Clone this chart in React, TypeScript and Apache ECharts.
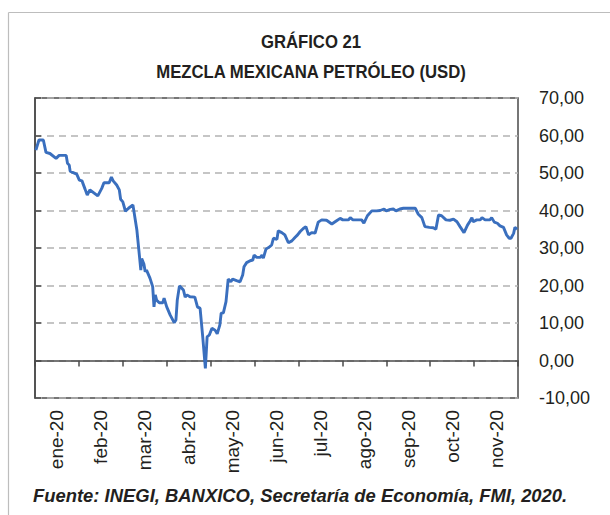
import React, { useEffect, useRef } from "react";
import * as echarts from "echarts";

const months = ["ene-20", "feb-20", "mar-20", "abr-20", "may-20", "jun-20", "jul-20", "ago-20", "sep-20", "oct-20", "nov-20"];

// position in months since 1 Jan 2020 (axis of equal month widths)
const timePos = [
  0.02, 0.09, 0.19, 0.25, 0.34, 0.48, 0.55, 0.71, 0.74, 0.78, 0.8, 0.87, 0.95, 1.01, 1.07, 1.14, 1.19, 1.25,
  1.43, 1.52, 1.57, 1.69, 1.74, 1.78, 1.86, 1.92, 1.95, 2.0, 2.06, 2.13, 2.23, 2.32, 2.38, 2.41, 2.43, 2.48,
  2.51, 2.54, 2.62, 2.68, 2.71, 2.74, 2.77, 2.83, 2.91, 2.94, 3.0, 3.08, 3.17, 3.21, 3.24, 3.29, 3.38, 3.42,
  3.46, 3.53, 3.64, 3.7, 3.76, 3.82, 3.88, 3.92, 3.97, 4.03, 4.1, 4.15, 4.21, 4.24, 4.29, 4.35, 4.4, 4.46,
  4.5, 4.59, 4.67, 4.73, 4.76, 4.82, 4.9, 4.96, 4.99, 5.05, 5.13, 5.17, 5.2, 5.26, 5.34, 5.39, 5.43, 5.51,
  5.54, 5.62, 5.69, 5.77, 5.85, 5.92, 5.98, 6.04, 6.11, 6.17, 6.23, 6.3, 6.38, 6.45, 6.53, 6.64, 6.76, 6.86,
  6.95, 7.01, 7.14, 7.18, 7.24, 7.44, 7.49, 7.57, 7.67, 7.78, 7.86, 7.95, 8.0, 8.09, 8.16, 8.22, 8.31, 8.39,
  8.54, 8.66, 8.73, 8.81, 8.88, 8.98, 9.07, 9.13, 9.19, 9.26, 9.36, 9.45, 9.53, 9.61, 9.68, 9.77, 9.85, 9.91,
  9.95, 9.98, 10.06, 10.14, 10.18, 10.25, 10.36, 10.4, 10.46, 10.53, 10.59, 10.67, 10.74, 10.8, 10.84, 10.9,
  10.93, 10.98,
];

const prices = [
  56.1, 58.8, 58.8, 55.5, 55.2, 53.9, 54.7, 54.7, 52.6, 52.1, 50.5, 50.1, 49.7, 48.1, 47.9, 45.7, 44.1, 45.5,
  43.9, 45.9, 47.4, 47.4, 48.9, 47.9, 46.8, 45.5, 43.0, 42.3, 39.8, 40.6, 41.5, 34.8, 27.7, 24.1, 27.2, 25.7,
  23.7, 24.1, 21.9, 19.7, 14.3, 17.5, 16.1, 15.4, 15.4, 16.6, 14.3, 12.1, 10.1, 10.8, 16.1, 19.9, 18.8, 16.9,
  17.5, 17.0, 16.9, 14.3, 13.9, 6.3, -2.1, 6.3, 6.8, 8.6, 8.1, 7.1, 9.5, 12.6, 12.7, 15.7, 21.7, 21.0,
  21.7, 21.3, 21.0, 22.8, 25.0, 26.1, 26.6, 26.8, 28.1, 27.5, 27.5, 28.1, 27.3, 29.7, 30.3, 30.8, 32.6, 32.3,
  34.6, 34.1, 33.5, 31.4, 31.9, 32.8, 33.5, 34.4, 35.2, 35.7, 33.5, 34.1, 34.0, 36.9, 37.5, 37.4, 36.4, 37.2,
  37.9, 37.5, 37.5, 38.1, 37.5, 37.5, 36.6, 38.6, 39.9, 39.9, 40.0, 40.4, 39.9, 40.3, 40.4, 39.9, 40.4, 40.6,
  40.6, 40.6, 39.0, 38.1, 35.7, 35.5, 35.4, 35.0, 38.8, 38.6, 37.5, 37.4, 37.7, 37.0, 35.7, 34.1, 36.1, 37.2,
  38.1, 37.0, 37.5, 37.5, 38.1, 37.5, 37.5, 38.1, 36.9, 36.6, 35.9, 35.5, 33.5, 32.6, 32.6, 33.9,
  35.5, 35.0,
];

const titleLine1 = "GRÁFICO 21";
const titleLine2 = "MEZCLA MEXICANA PETRÓLEO (USD)";
const sourceNote = "Fuente: INEGI, BANXICO, Secretaría de Economía, FMI, 2020.";

const FONT = "'Liberation Sans', Arial, Helvetica, sans-serif";
const TEXT = "#231f20";

export default function App() {
  const ref = useRef<HTMLDivElement>(null);

  useEffect(() => {
    if (!ref.current) return;
    const chart = echarts.init(ref.current, undefined, { renderer: "svg" });
    const seriesData = timePos.map((t, i) => [t, prices[i]]);

    chart.setOption({
      animation: false,
      backgroundColor: "#ffffff",
      textStyle: { fontFamily: FONT },
      grid: {
        left: 35,
        top: 98,
        right: 92,
        bottom: 117,
        show: true,
        borderColor: "#4a4a4a",
        borderWidth: 1.5,
        backgroundColor: "transparent",
      },
      xAxis: [
        {
          type: "category",
          data: months,
          boundaryGap: true,
          position: "bottom",
          axisLine: { show: true, lineStyle: { color: "#4a4a4a", width: 1.5 } },
          axisTick: { show: true, length: 6, inside: false, lineStyle: { color: "#4a4a4a", width: 1.5 } },
          axisLabel: {
            rotate: 90,
            margin: 12,
            fontSize: 19,
            color: TEXT,
            fontFamily: FONT,
            interval: 0,
          },
          splitLine: { show: false },
        },
        {
          type: "value",
          min: 0,
          max: 11,
          show: false,
        },
      ],
      yAxis: {
        type: "value",
        position: "right",
        min: -10,
        max: 70,
        interval: 10,
        axisLine: { show: true, lineStyle: { color: "#4a4a4a", width: 1.5 } },
        axisTick: { show: true, length: 6, lineStyle: { color: "#4a4a4a", width: 1.5 } },
        axisLabel: {
          margin: 21,
          fontSize: 18,
          color: TEXT,
          fontFamily: FONT,
          formatter: (v: number) => v.toFixed(2).replace(".", ","),
        },
        splitLine: {
          show: true,
          lineStyle: { color: "#b3b3b3", width: 1.5, type: [7, 5] },
        },
      },
      series: [
        {
          type: "line",
          xAxisIndex: 1,
          data: seriesData,
          showSymbol: false,
          symbol: "none",
          lineStyle: { color: "#3a6fbe", width: 2.9 },
          itemStyle: { color: "#3a6fbe" },
          z: 5,
        },
      ],
      graphic: [
        {
          type: "line",
          shape: { x1: 8.5, y1: 12.5, x2: 610, y2: 12.5 },
          style: { stroke: "#bdbdbd", lineWidth: 1.2 },
          silent: true,
        },
        {
          type: "line",
          shape: { x1: 8.5, y1: 12.5, x2: 8.5, y2: 515 },
          style: { stroke: "#bdbdbd", lineWidth: 1.2 },
          silent: true,
        },
        {
          type: "text",
          x: 311,
          y: 42,
          scaleX: 0.88,
          style: {
            text: titleLine1,
            fontSize: 19,
            fontWeight: "bold",
            fontFamily: FONT,
            fill: TEXT,
            textAlign: "center",
            textVerticalAlign: "middle",
          },
        },
        {
          type: "text",
          x: 311,
          y: 72,
          scaleX: 0.88,
          style: {
            text: titleLine2,
            fontSize: 19,
            fontWeight: "bold",
            fontFamily: FONT,
            fill: TEXT,
            textAlign: "center",
            textVerticalAlign: "middle",
          },
        },
        {
          type: "text",
          x: 33,
          y: 495,
          scaleX: 0.97,
          style: {
            text: sourceNote,
            fontSize: 19,
            fontWeight: "bold",
            fontStyle: "italic",
            fontFamily: FONT,
            fill: TEXT,
            textAlign: "left",
            textVerticalAlign: "middle",
          },
        },
      ],
    });

    return () => chart.dispose();
  }, []);

  return (
    <div
      ref={ref}
      style={{ position: "fixed", left: 0, top: 0, width: 610, height: 515, background: "#fff" }}
    />
  );
}
